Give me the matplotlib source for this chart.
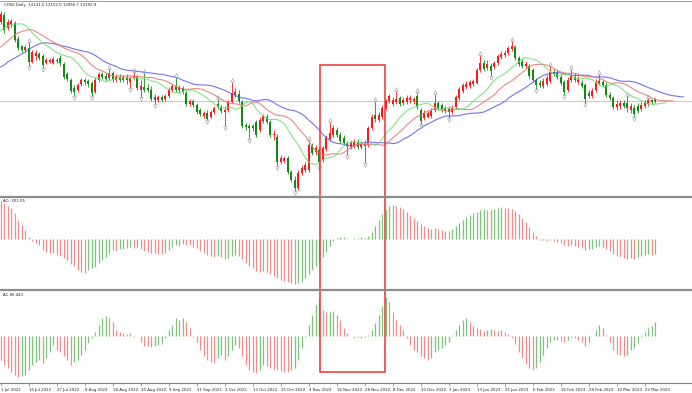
import matplotlib
matplotlib.use("Agg")
import matplotlib.pyplot as plt
import numpy as np
from matplotlib.lines import Line2D
from matplotlib.patches import Rectangle

# ---------------- data ----------------
symbol_title = "CH50,Daily  13141.5 13152.0 13056.7 13102.9"

opens = [14680,14820,14560,14620,14660,14340,14200,14120,14160,13880,
         14000,14040,14000,13860,13880,13860,13920,13960,13840,13640,
         13520,13360,13320,13440,13520,13500,13460,13280,13520,13640,
         13600,13560,13660,13520,13580,13520,13580,13480,13560,13580,
         13320,13380,13360,13320,13180,13120,13180,13140,13200,13320,
         13400,13320,13360,13260,13040,13100,13020,12920,12800,12860,
         12780,12880,13040,12980,12880,12920,13080,13220,13240,13080,
         12620,12600,12600,12680,12520,12700,12780,12680,12420,12380,
         11880,11900,11960,11680,11520,11360,11660,11720,11720,12200,
         12080,12120,11920,12140,12340,12420,12520,12420,12360,12260,
         12180,12200,12280,12180,12200,12220,12560,12820,12720,12780,
         12960,13100,13040,13080,13160,13060,13080,13120,13100,13200,
         12920,12760,12780,12800,12920,13060,13020,12960,12940,12880,
         12980,13160,13300,13380,13400,13440,13460,13720,13860,13760,
         13800,13780,13860,13980,14020,14060,14140,14180,13960,13880,
         13800,13800,13720,13520,13460,13400,13440,13500,13680,13660,
         13580,13480,13320,13520,13580,13480,13460,13420,13260,13200,
         13320,13460,13480,13420,13220,13160,12980,13000,13060,13060,
         12920,12960,13000,12940,13000,13040,13120,13141.5]
closes = [14840,14520,14680,14700,14320,14160,14120,14180,13880,14080,
          14060,13960,13820,13920,13920,13940,13900,13860,13580,13540,
          13300,13280,13420,13520,13480,13440,13260,13520,13640,13580,
          13540,13660,13520,13580,13520,13580,13520,13560,13600,13360,
          13400,13320,13320,13140,13120,13180,13120,13200,13340,13400,
          13320,13380,13280,13040,13100,13020,12880,12840,12860,12740,
          12880,12960,12980,12900,12920,13080,13260,13280,13100,12600,
          12580,12560,12560,12420,12720,12800,12680,12420,12440,11880,
          11960,11960,11680,11520,11360,11660,11760,11820,12220,12060,
          12160,11880,12160,12360,12460,12560,12420,12300,12260,12200,
          12260,12280,12180,12240,12240,12560,12780,12740,12820,12960,
          13100,13200,13120,13140,13040,13120,13160,13160,13140,12980,
          12700,12860,12860,12900,13060,12960,12920,12900,12880,12960,
          13180,13340,13420,13440,13480,13500,13720,13860,13740,13840,
          13700,13860,14000,14040,14060,14160,14200,13960,13840,13800,
          13840,13600,13520,13420,13420,13500,13560,13680,13640,13580,
          13460,13280,13520,13600,13520,13540,13400,13140,13200,13300,
          13480,13500,13420,13220,13160,12980,13040,13060,13000,12960,
          13000,12840,12900,13020,13060,13120,13080,13102.9]
highs = [14900,14880,14740,14740,14700,14400,14220,14220,14280,14120,
         14120,14080,14040,13960,13960,13980,13960,14020,13880,13680,
         13560,13420,13460,13560,13560,13540,13500,13580,13680,13680,
         13660,13740,13700,13640,13640,13620,13640,13600,13680,13620,
         13520,13660,13440,13400,13240,13220,13220,13240,13380,13440,
         13580,13420,13400,13300,13140,13140,13060,12960,12900,12920,
         12920,13000,13140,13020,13000,13120,13480,13360,13320,13120,
         12660,12640,12640,12720,12780,12840,12840,12720,12520,12440,
         12020,12000,12000,11720,11600,11720,11820,11880,12320,12260,
         12220,12160,12200,12420,12680,12620,12580,12480,12420,12300,
         12320,12340,12340,12300,12320,12600,12840,13100,12880,13020,
         13140,13240,13180,13300,13200,13180,13220,13220,13180,13280,
         12960,12920,12900,12960,13240,13100,13060,13000,13000,13020,
         13220,13380,13460,13500,13520,13540,13760,14020,13920,13920,
         13860,13900,14040,14100,14120,14200,14300,14220,14000,13940,
         13900,13840,13760,13560,13520,13560,13620,13800,13740,13720,
         13640,13520,13580,13740,13660,13600,13520,13460,13320,13360,
         13540,13640,13540,13480,13280,13200,13120,13120,13120,13200,
         13060,13020,13060,13080,13120,13160,13140,13152.0]
lows = [14640,14460,14520,14580,14280,14120,14080,14080,13800,13860,
        13920,13920,13760,13840,13860,13840,13860,13800,13540,13500,
        13260,13200,13280,13400,13420,13380,13200,13260,13480,13540,
        13500,13520,13480,13480,13480,13480,13440,13360,13520,13320,
        13180,13280,13280,13100,13040,13080,13080,13100,13160,13280,
        13280,13260,13240,13000,13000,12980,12840,12800,12760,12720,
        12760,12840,12940,12860,12600,12880,13060,13180,13060,12560,
        12520,12340,12500,12380,12480,12660,12640,12380,12320,11800,
        11840,11860,11640,11480,11300,11320,11620,11680,11680,12020,
        12020,11800,11880,12100,12300,12380,12380,12260,12220,12020,
        12140,12160,12140,12140,11860,12180,12520,12680,12680,12740,
        12920,13060,13000,13040,13000,13020,13040,13060,13040,12940,
        12640,12720,12760,12760,12880,12920,12880,12860,12760,12840,
        12940,13120,13260,13340,13360,13400,13440,13680,13700,13720,
        13600,13740,13820,13940,13980,14020,14100,13920,13800,13760,
        13760,13560,13480,13340,13380,13360,13400,13460,13600,13540,
        13420,13220,13280,13480,13480,13440,13360,13060,13160,13160,
        13280,13420,13380,13180,13120,12940,12920,12940,12960,12880,
        12860,12780,12860,12900,12960,13000,13040,13056.7]

# Alligator values shown before the first computed point (line values at the left edge)
jaw_head = [13780, 13820, 13880, 13920, 13960, 14000, 14040, 14080]
teeth_head = [14180, 14240, 14300, 14360, 14420]
lips_head = [14500, 14560, 14600]

ao_values = [760,720,660,620,520,380,280,180,40,-40,
             -80,-120,-220,-260,-280,-285,-320,-330,-380,-420,
             -500,-540,-620,-660,-670,-620,-580,-560,-480,-420,
             -360,-280,-220,-240,-200,-190,-180,-160,-180,-160,
             -200,-240,-260,-270,-280,-290,-300,-280,-220,-160,
             -120,-140,-100,-110,-120,-160,-180,-240,-280,-320,
             -340,-360,-340,-360,-400,-380,-340,-320,-340,-400,
             -480,-540,-580,-640,-660,-640,-660,-700,-740,-780,
             -820,-840,-860,-880,-900,-880,-840,-780,-700,-620,
             -540,-460,-360,-260,-140,-40,20,40,45,20,
             10,20,30,40,30,60,140,260,380,500,
             600,660,680,660,640,600,540,480,420,360,
             300,260,220,200,220,200,180,170,160,200,
             260,320,380,440,480,520,540,580,600,590,
             580,600,620,640,630,620,600,560,500,420,
             340,240,140,60,-10,-20,-30,-20,-40,-60,
             -80,-120,-140,-120,-140,-160,-180,-220,-200,-190,
             -160,-140,-160,-200,-240,-300,-340,-360,-380,-390,
             -380,-390,-360,-340,-320,-300,-310,-301.05]
ac_values = [-144,-174,-192,-216,-234,-246,-240,-234,-204,-174,
             -156,-144,-162,-132,-96,-54,-84,-96,-120,-144,
             -174,-156,-144,-114,-84,-42,-12,24,66,108,
             120,108,84,36,24,18,12,18,-6,3,
             -36,-60,-62,-66,-60,-54,-48,-12,36,66,
             108,96,108,84,48,-4,-36,-84,-120,-144,
             -156,-162,-132,-114,-144,-120,-84,-54,-72,-120,
             -174,-204,-216,-222,-204,-174,-180,-192,-198,-204,
             -210,-216,-218,-204,-192,-144,-72,-6,66,126,
             186,228,156,144,145,150,126,96,48,18,
             -2,-12,-6,-9,-6,6,36,78,126,180,
             234,204,144,96,66,36,-12,-54,-84,-96,
             -120,-132,-144,-132,-96,-84,-72,-54,-36,6,
             36,66,96,108,84,60,48,42,30,36,
             42,36,30,36,24,12,-12,-48,-96,-132,
             -168,-192,-204,-192,-156,-114,-72,-36,-24,-26,
             -30,-36,-24,-6,-12,-24,-36,-60,-36,2,
             36,66,48,6,-36,-84,-108,-114,-120,-114,
             -84,-72,-42,-6,24,48,60,86.443]

fractal_up = [8, 31, 38, 41, 50, 62, 66, 88, 94, 107, 113, 119, 124, 137,
              146, 157, 163, 171, 179, 185]
fractal_down = [8, 12, 21, 26, 37, 40, 44, 59, 64, 71, 79, 84, 91, 99, 104,
                120, 128, 140, 153, 161, 167, 181]

date_labels = ["1 Jul 2022", "15 Jul 2022", "27 Jul 2022", "8 Aug 2022",
               "18 Aug 2022", "30 Aug 2022", "9 Sep 2022", "21 Sep 2022",
               "3 Oct 2022", "13 Oct 2022", "25 Oct 2022", "4 Nov 2022",
               "16 Nov 2022", "28 Nov 2022", "8 Dec 2022", "20 Dec 2022",
               "3 Jan 2023", "13 Jan 2023", "25 Jan 2023", "6 Feb 2023",
               "16 Feb 2023", "28 Feb 2023", "10 Mar 2023", "22 Mar 2023"]
label_step = 8

# ---------------- figure geometry ----------------
W, H = 692, 393
fig = plt.figure(figsize=(W / 100, H / 100), dpi=100)
fig.patch.set_facecolor("white")


def axes_px(top, bottom):
    return fig.add_axes([0, 1 - bottom / H, 1, (bottom - top) / H])


ax = axes_px(1, 195)
ax_ao = axes_px(198, 288)
ax_ac = axes_px(291, 383)

n = len(closes)
x = np.arange(n)
o = np.array(opens, float)
c = np.array(closes, float)
hi = np.array(highs, float)
lo = np.array(lows, float)

XL = (-0.2, 197.5)
FS = 2.75

# ---------------- main price window ----------------
up_col = "#ff1a1a"
dn_col = "#138a13"
bull = c >= o
cols = np.where(bull, up_col, dn_col)
ax.vlines(x, lo, hi, colors=cols, linewidth=0.6)
bottoms = np.minimum(o, c)
heights = np.maximum(np.abs(c - o), 8)
ax.bar(x, heights, bottom=bottoms, width=0.62, color=cols, linewidth=0)

med = (hi + lo) / 2


def smma(seed, vals, period):
    out = []
    s = seed
    for v in vals:
        s = (s * (period - 1) + v) / period
        out.append(s)
    return out


def alligator(head, period, shift, color):
    vals = list(head) + smma(head[-1], med, period)
    xs = np.arange(len(vals)) + (shift - len(head))
    ax.plot(xs, vals, color=color, linewidth=0.8, alpha=0.85)


alligator(jaw_head, 13, 8, "#5a5af0")
alligator(teeth_head, 8, 5, "#f07070")
alligator(lips_head, 5, 3, "#70e070")

ax.axhline(closes[-1], color="#c8c8c8", linewidth=0.7, zorder=0)

ax.plot(fractal_up, hi[fractal_up] + 45, linestyle="none", marker="^",
        markersize=2.6, markerfacecolor="none", markeredgecolor="#a8a8a8",
        markeredgewidth=0.5)
ax.plot(fractal_down, lo[fractal_down] - 45, linestyle="none", marker="v",
        markersize=2.6, markerfacecolor="none", markeredgecolor="#a8a8a8",
        markeredgewidth=0.5)

ax.set_xlim(*XL)
ax.set_ylim(11220, 15100)
fig.text(4 / W, 1 - 5 / H, symbol_title, fontsize=FS, color="#202020",
         va="center", ha="left")

# ---------------- AO window ----------------
ao = np.array(ao_values, float)
ao_cols = ["#f08c8c" if i == 0 or ao[i] < ao[i - 1] else "#7cc47c"
           for i in range(n)]
ax_ao.vlines(x, 0, ao, colors=ao_cols, linewidth=0.9)
ax_ao.set_xlim(*XL)
ax_ao.set_ylim(-980, 820)
fig.text(3 / W, 1 - 201 / H, "AO -301.05", fontsize=FS, color="#202020",
         va="center", ha="left")

# ---------------- AC window ----------------
ac = np.array(ac_values, float)
ac_cols = ["#f08c8c" if i == 0 or ac[i] < ac[i - 1] else "#7cc47c"
           for i in range(n)]
ax_ac.vlines(x, 0, ac, colors=ac_cols, linewidth=0.9)
ax_ac.set_xlim(*XL)
ax_ac.set_ylim(-282, 270)
fig.text(3 / W, 1 - 295 / H, "AC 86.443", fontsize=FS, color="#202020",
         va="center", ha="left")

for a in (ax, ax_ao, ax_ac):
    a.set_facecolor("white")
    for s in a.spines.values():
        s.set_visible(False)
    a.set_yticks([])
    a.set_xticks([])

# time axis
ax_ac.spines["bottom"].set_visible(True)
ax_ac.spines["bottom"].set_color("#808080")
ax_ac.spines["bottom"].set_linewidth(0.8)
ticks = [i * label_step for i in range(len(date_labels))]
ax_ac.set_xticks(ticks)
ax_ac.set_xticklabels(date_labels, fontsize=FS, color="#202020", ha="left")
ax_ac.tick_params(axis="x", length=2, width=0.5, color="#808080", pad=1.5)

# window separators and top border
for ypx, lw in ((0.5, 0.8), (196.5, 2.2), (289.5, 2.2)):
    fig.add_artist(Line2D([0, 1], [1 - ypx / H, 1 - ypx / H],
                          transform=fig.transFigure, color="#8c8c8c",
                          linewidth=lw * 0.72))

# highlight rectangle
rx0, ry0, rx1, ry1 = 319.5, 65, 384.5, 372
fig.add_artist(Rectangle((rx0 / W, 1 - ry1 / H), (rx1 - rx0) / W,
                         (ry1 - ry0) / H, transform=fig.transFigure,
                         fill=False, edgecolor="#ee3030", linewidth=1.1))

fig.savefig("out.png", dpi=100, facecolor="white")
